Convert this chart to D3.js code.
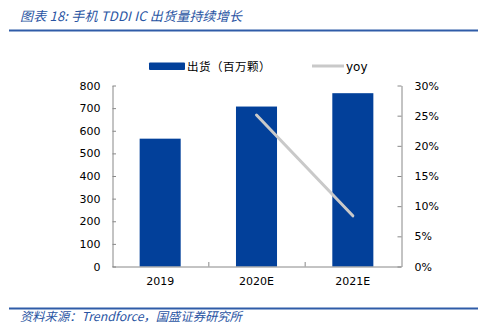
<!DOCTYPE html>
<html><head><meta charset="utf-8">
<script src="https://cdn.jsdelivr.net/npm/d3@7"></script>
<style>
body{margin:0;background:#fff;}
svg{display:block;}
</style></head>
<body><svg id="c" width="486" height="336"></svg>
<script>
const categories = ["2019", "2020E", "2021E"];
const shipments = [565, 707, 766];
const yoyCategories = ["2020E", "2021E"];
const yoyValues = [25.1, 8.4];
const leftTicks = [0, 100, 200, 300, 400, 500, 600, 700, 800];
const rightTicks = [0, 5, 10, 15, 20, 25, 30];
const titleText = "图表 18:  手机 TDDI IC 出货量持续增长";
const sourceText = "资料来源：Trendforce，国盛证券研究所";
const legendLabels = ["出货（百万颗）", "yoy"];

const svg = d3.select("#c");
const blue = "#02409a", gray = "#c9c9c9", axisCol = "#888";
const font = "'DejaVu Sans', Verdana, sans-serif";
const cjk = "'Noto Sans CJK SC', 'DejaVu Sans', sans-serif";

// title
svg.append("text").attr("x", 20).attr("y", 21)
  .attr("font-family", cjk).attr("font-size", 13).attr("font-style", "italic")
  .attr("letter-spacing", 0.2).attr("fill", "#2a55a3").text(titleText);
svg.append("line").attr("x1", 9).attr("x2", 478).attr("y1", 30.5).attr("y2", 30.5)
  .attr("stroke", "#2f5ca8").attr("stroke-width", 2);

// footer
svg.append("line").attr("x1", 9).attr("x2", 478).attr("y1", 308.5).attr("y2", 308.5)
  .attr("stroke", "#2f5ca8").attr("stroke-width", 2);
svg.append("text").attr("x", 20).attr("y", 321)
  .attr("font-family", cjk).attr("font-size", 12.3).attr("font-style", "italic")
  .attr("fill", "#2a55a3").text(sourceText);

// scales
const x = d3.scaleBand().domain(categories).range([112, 401]).paddingInner(0.574).paddingOuter(0.287);
const xc = d3.scaleBand().domain(categories).range([112, 401]);
const yL = d3.scaleLinear().domain([0, 800]).range([266.5, 85.5]);
const yR = d3.scaleLinear().domain([0, 30]).range([266.5, 85.5]);

// bars
svg.append("g").selectAll("rect").data(categories).join("rect")
  .attr("x", d => x(d)).attr("width", x.bandwidth())
  .attr("y", (d, i) => yL(shipments[i])).attr("height", (d, i) => yL(0) - yL(shipments[i]))
  .attr("fill", blue);

// yoy line
const line = d3.line().x((d, i) => xc(yoyCategories[i]) + xc.bandwidth() / 2).y(d => yR(d));
svg.append("path").datum(yoyValues).attr("d", line)
  .attr("fill", "none").attr("stroke", gray).attr("stroke-width", 3).attr("stroke-linecap", "round");

// left axis
const gL = svg.append("g").attr("transform", "translate(112.5,0)")
  .call(d3.axisLeft(yL).tickValues(leftTicks).tickSizeInner(-3.5).tickSizeOuter(0).tickPadding(12));
// right axis
const gR = svg.append("g").attr("transform", "translate(401.5,0)")
  .call(d3.axisRight(yR).tickValues(rightTicks).tickSizeInner(-4).tickSizeOuter(0).tickPadding(13)
    .tickFormat(d => d + "%"));
[gL, gR].forEach(g => {
  g.select(".domain").attr("stroke", axisCol);
  g.selectAll(".tick line").attr("stroke", axisCol);
  g.selectAll("text").attr("font-family", font).attr("font-size", 11).attr("fill", "#000");
});
gR.selectAll("text").attr("text-anchor", "start");

// x axis
const gX = svg.append("g").attr("transform", "translate(0,266.5)")
  .call(d3.axisBottom(xc).tickSize(0).tickPadding(11));
gX.select(".domain").attr("stroke", axisCol);
gX.selectAll("text").attr("font-family", font).attr("font-size", 11).attr("fill", "#000");
// category boundary ticks (inward)
svg.append("g").selectAll("line").data(categories.slice(1)).join("line")
  .attr("x1", d => xc(d) + 0.5).attr("x2", d => xc(d) + 0.5)
  .attr("y1", 266.5).attr("y2", 262).attr("stroke", axisCol);

// legend
svg.append("rect").attr("x", 149).attr("y", 62.5).attr("width", 36).attr("height", 7.5).attr("fill", blue).attr("rx", 1);
svg.append("text").attr("x", 187).attr("y", 70.5).attr("font-family", cjk).attr("font-size", 11.5)
  .attr("letter-spacing", 0.5).attr("fill", "#000").text(legendLabels[0]);
svg.append("line").attr("x1", 312).attr("x2", 344).attr("y1", 66).attr("y2", 66)
  .attr("stroke", gray).attr("stroke-width", 3);
svg.append("text").attr("x", 346).attr("y", 71).attr("font-family", font).attr("font-size", 12)
  .attr("fill", "#000").text(legendLabels[1]);
</script></body></html>
